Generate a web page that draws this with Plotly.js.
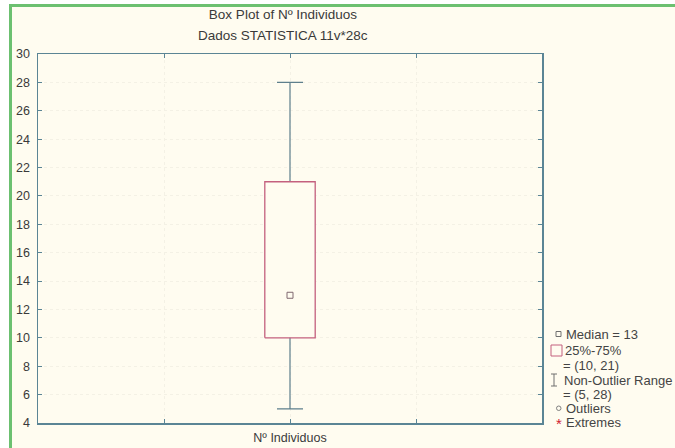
<!DOCTYPE html>
<html>
<head>
<meta charset="utf-8">
<script src="https://cdn.plot.ly/plotly-3.0.1.min.js"></script>
<style>
  html, body { margin: 0; padding: 0; background: #ffffff; }
  #frame { position: absolute; left: 9px; top: 4px; width: 666px; height: 444px;
           border-left: 3px solid #6cc070; border-top: 3px solid #6cc070; background: #fffcf0; }
  #chart { position: absolute; left: 0; top: 0; width: 663px; height: 441px; }
</style>
</head>
<body>
<div id="frame"><div id="chart"></div></div>
<script>
// ---- data ----
const categories = ["Nº Individuos"];
const medianVals = [13];
const q1Vals = [10];
const q3Vals = [21];
const lowerVals = [5];
const upperVals = [28];
const yTickVals = [4, 6, 8, 10, 12, 14, 16, 18, 20, 22, 24, 26, 28, 30];
const titleLines = ["Box Plot of Nº Individuos", "Dados STATISTICA 11v*28c"];
const legendLabels = ["Outliers", "Extremes"];

// ---- layout constants ----
const PLOT_L = 38, PLOT_R = 542, PLOT_T = 54, PLOT_B = 423; // absolute px
const xp = px => (px - PLOT_L) / (PLOT_R - PLOT_L);
const yp = py => (PLOT_B - py) / (PLOT_B - PLOT_T);

const catX = categories.map((c, i) => 2 + i);
const halfW = 0.2;

const axisCol = '#5b8595';
const textCol = '#3a3a3a';
const boxCol = '#c4607e';
const whiskCol = '#5e7f8c';
const FONT = 'Liberation Sans, Arial, sans-serif';

const traces = [];
// whiskers (error bars from median to lower/upper)
traces.push({
  type: 'scatter', mode: 'markers', x: catX, y: medianVals,
  marker: { size: 1, color: 'rgba(0,0,0,0)' },
  error_y: { type: 'data', symmetric: false,
             array: upperVals.map((u, i) => u - medianVals[i]),
             arrayminus: lowerVals.map((l, i) => medianVals[i] - l),
             color: whiskCol, thickness: 1.2, width: 13 },
  hoverinfo: 'skip', showlegend: false
});
// boxes
catX.forEach((cx, i) => {
  traces.push({
    type: 'scatter', mode: 'lines',
    x: [cx - halfW, cx + halfW, cx + halfW, cx - halfW, cx - halfW],
    y: [q1Vals[i], q1Vals[i], q3Vals[i], q3Vals[i], q1Vals[i]],
    fill: 'toself', fillcolor: '#fffcf0',
    line: { color: boxCol, width: 1.3 },
    hoverinfo: 'skip', showlegend: false
  });
});
// median markers
traces.push({
  type: 'scatter', mode: 'markers', x: catX, y: medianVals,
  marker: { symbol: 'square-open', size: 6, color: '#806870', line: { width: 1 } },
  hoverinfo: 'skip', showlegend: false
});

// ---- legend (manual) ----
const lx = 561;
const legendText = [
  { t: `Median = ${medianVals[0]}`, x: 564, y: 334 },
  { t: '25%-75%', x: 563, y: 350 },
  { t: `= (${q1Vals[0]}, ${q3Vals[0]})`, x: lx, y: 365 },
  { t: 'Non-Outlier Range', x: 562, y: 380 },
  { t: `= (${lowerVals[0]}, ${upperVals[0]})`, x: lx, y: 394 },
  { t: legendLabels[0], x: 564, y: 408 },
  { t: legendLabels[1], x: 564, y: 422 }
];
const annotations = legendText.map(o => ({
  xref: 'paper', yref: 'paper', x: xp(o.x), y: yp(o.y),
  xanchor: 'left', yanchor: 'middle', showarrow: false, text: o.t,
  font: { family: FONT, size: 13, color: '#444444' }
}));
annotations.push({
  xref: 'paper', yref: 'paper', x: xp(283), y: yp(35), xanchor: 'center', yanchor: 'middle',
  showarrow: false, text: titleLines[1], font: { family: FONT, size: 13.5, color: textCol }
});
annotations.push({
  xref: 'paper', yref: 'paper', x: xp(558.5), y: yp(424), xanchor: 'center', yanchor: 'middle',
  showarrow: false, text: '*', font: { family: FONT, size: 15, color: '#d02030' }
});

const shapes = [
  // median square
  { type: 'rect', xref: 'paper', yref: 'paper', x0: xp(556), x1: xp(561), y0: yp(336.5), y1: yp(331.5),
    line: { color: '#707070', width: 1 } },
  // 25-75 square
  { type: 'rect', xref: 'paper', yref: 'paper', x0: xp(551), x1: xp(562), y0: yp(356), y1: yp(345),
    line: { color: boxCol, width: 1 } },
  // I-beam
  { type: 'line', xref: 'paper', yref: 'paper', x0: xp(554), x1: xp(554), y0: yp(386), y1: yp(374),
    line: { color: '#707070', width: 1 } },
  { type: 'line', xref: 'paper', yref: 'paper', x0: xp(551), x1: xp(557), y0: yp(374), y1: yp(374),
    line: { color: '#707070', width: 1 } },
  { type: 'line', xref: 'paper', yref: 'paper', x0: xp(551), x1: xp(557), y0: yp(386), y1: yp(386),
    line: { color: '#707070', width: 1 } },
  // outlier circle
  { type: 'circle', xref: 'paper', yref: 'paper', x0: xp(556.5), x1: xp(561), y0: yp(410.5), y1: yp(406),
    line: { color: '#808080', width: 1 } }
];

const layout = {
  width: 663, height: 441,
  margin: { l: PLOT_L - 12, r: 663 - (PLOT_R - 12), t: PLOT_T - 7, b: 441 - (PLOT_B - 7), pad: 0 },
  paper_bgcolor: '#fffcf0', plot_bgcolor: '#fffcf0',
  showlegend: false,
  title: { text: titleLines[0], x: xp(283), xref: 'paper', xanchor: 'center',
           y: 1 - 7 / 441, yref: 'container', yanchor: 'middle',
           font: { family: FONT, size: 13.5, color: textCol } },
  xaxis: {
    range: [0, 4], tickvals: [1, 2, 3], ticktext: ['', categories[0], ''],
    showline: true, linecolor: axisCol, linewidth: 1.5, mirror: 'ticks',
    ticks: 'inside', ticklen: 4, tickcolor: axisCol,
    showgrid: true, gridcolor: '#f4f1e5', griddash: 'dot', zeroline: false,
    tickfont: { family: FONT, size: 12.5, color: textCol }, ticklabelstandoff: 2
  },
  yaxis: {
    range: [4, 30], tickvals: yTickVals,
    showline: true, linecolor: axisCol, linewidth: 1.5, mirror: 'ticks',
    ticks: 'inside', ticklen: 4, tickcolor: axisCol,
    showgrid: true, gridcolor: '#f4f1e5', griddash: 'dot', zeroline: false,
    tickfont: { family: FONT, size: 12.5, color: textCol }, ticklabelstandoff: 4
  },
  annotations: annotations,
  shapes: shapes
};

Plotly.newPlot('chart', traces, layout, { displayModeBar: false, staticPlot: true });
</script>
</body>
</html>
